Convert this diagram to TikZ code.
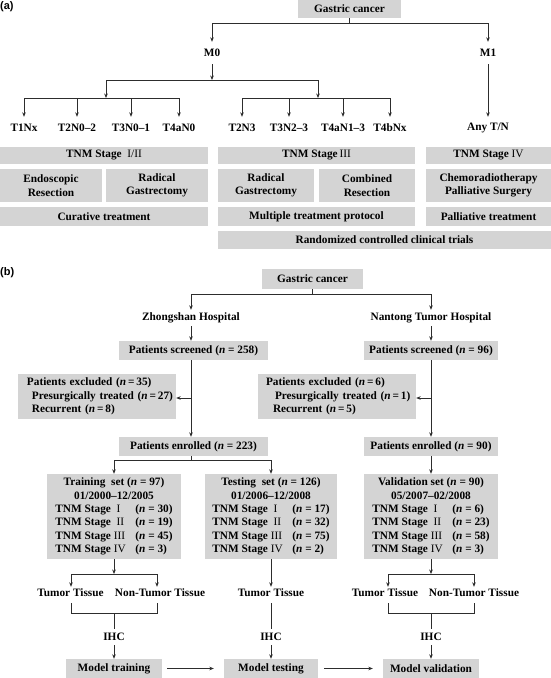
\documentclass[tikz,border=0pt]{standalone}
\usepackage{fontspec}
\setmainfont{Liberation Serif}
\newfontfamily\labfont{Liberation Sans}
\usetikzlibrary{arrows.meta,calc}
\definecolor{boxgray}{RGB}{212,212,212}
\definecolor{linec}{RGB}{45,45,45}
\newcommand{\nn}{\textit{n}}
\newcommand{\rn}[1]{{\mdseries #1}}
\newcommand{\stg}[2]{\makebox[80pt][l]{TNM Stage\ #1} & (\nn\ =\ #2)\\}
\begin{document}
\begin{tikzpicture}[x=1pt,y=-1pt,
  font=\bfseries\fontsize{11.3}{13.4}\selectfont,
  box/.style={fill=boxgray, inner sep=0pt, align=center},
  exbox/.style={fill=boxgray, align=left, text width=156pt, inner xsep=1pt, inner ysep=0pt, minimum height=45pt},
  lbl/.style={inner sep=0pt, align=center},
  ln/.style={draw=linec, line width=0.8pt},
  arr/.style={draw=linec, line width=0.8pt, -{Stealth[length=4.5pt,width=3.6pt]}},
  tag/.style={anchor=west, inner sep=0pt, font=\labfont\bfseries\fontsize{11}{13}\selectfont}]
\useasboundingbox (0,0) rectangle (551,678);

% ---------------- (a) ----------------
\node[tag] (la) at (0,7) {(a)};
\node[box, minimum width=103pt, minimum height=18pt] (ga) at (349.5,9) {Gastric cancer};
\node[lbl, minimum height=22pt] (m0) at (212,53) {M0};
\node[lbl, minimum height=22pt] (m1) at (488,53) {M1};
\coordinate (ta) at (349.5,23);
\draw[ln] (ga.south) -- (ta);
\draw[arr] (ta) -| (m0.north);
\draw[arr] (ta) -| (m1.north);

\coordinate (j0) at (212,80);
\coordinate (jL) at (106,80);
\coordinate (jR) at (318,80);
\coordinate (kL) at (106,98);
\coordinate (kR) at (318,98);
\draw[arr] (m0.south) -- (j0);
\draw[ln] (jL) -- (jR);
\draw[arr] (jL) -- (kL);
\draw[arr] (jR) -- (kR);

\node[lbl, minimum height=22pt] (t1) at (24,128) {T1Nx};
\node[lbl, minimum height=22pt] (t2) at (77,128) {T2N0--2};
\node[lbl, minimum height=22pt] (t3) at (131,128) {T3N0--1};
\node[lbl, minimum height=22pt] (t4) at (179,128) {T4aN0};
\node[lbl, minimum height=22pt] (t5) at (242,128) {T2N3};
\node[lbl, minimum height=22pt] (t6) at (289,128) {T3N2--3};
\node[lbl, minimum height=22pt] (t7) at (343,128) {T4aN1--3};
\node[lbl, minimum height=22pt] (t8) at (390,128) {T4bNx};
\node[lbl, minimum height=22pt] (any) at (488,128) {Any T/N};

\draw[ln] (t1.north |- kL) -- (t4.north |- kL);
\draw[ln] (t5.north |- kR) -- (t8.north |- kR);
\foreach \t in {t1,t2,t3,t4} \draw[arr] (\t.north |- kL) -- (\t.north);
\foreach \t in {t5,t6,t7,t8} \draw[arr] (\t.north |- kR) -- (\t.north);
\draw[arr] (m1.south) -- (any.north);

\node[box, minimum width=208pt, minimum height=17pt] (s12) at (104,155.5) {TNM Stage\ \ \rn{I/II}};
\node[box, minimum width=197pt, minimum height=17pt] (s3) at (316.5,155.5) {TNM Stage\,\rn{III}};
\node[box, minimum width=125pt, minimum height=17pt] (s4) at (488.5,155.5) {TNM Stage\ \rn{IV}};

\node[box, minimum width=102pt, minimum height=33pt] (endo) at (51,185.5) {Endoscopic\\Resection};
\node[box, minimum width=102pt, minimum height=33pt] (rg1) at (157,185.5) {Radical\\Gastrectomy};
\node[box, minimum width=96pt, minimum height=33pt] (rg2) at (266,185.5) {Radical\\Gastrectomy};
\node[box, minimum width=96pt, minimum height=33pt] (comb) at (367,185.5) {Combined\\Resection};
\node[box, minimum width=125pt, minimum height=33pt] (chemo) at (488.5,185.5) {Chemoradiotherapy\\Palliative Surgery};

\node[box, minimum width=208pt, minimum height=19pt] (cur) at (104,216.5) {Curative treatment};
\node[box, minimum width=197pt, minimum height=19pt] (mult) at (316.5,216.5) {Multiple treatment protocol};
\node[box, minimum width=125pt, minimum height=19pt] (pall) at (488.5,216.5) {Palliative treatment};

\node[box, minimum width=333pt, minimum height=18pt] (rct) at (384.5,240) {Randomized controlled clinical trials};

% ---------------- (b) ----------------
\node[tag] (lb) at (0,273) {(b)};
\node[box, minimum width=101pt, minimum height=20pt] (gb) at (312.5,279) {Gastric cancer};
\coordinate (tb) at (312.5,294);
\node[lbl, minimum height=16pt] (zh) at (191,318) {Zhongshan Hospital};
\node[lbl, minimum height=16pt] (nt) at (431,318) {Nantong Tumor Hospital};
\draw[ln] (gb.south) -- (tb);
\draw[arr] (tb) -| (zh.north);
\draw[arr] (tb) -| (nt.north);

\node[box, minimum width=149pt, minimum height=19pt] (scrL) at (193.5,350.5) {Patients screened (\nn\ =\ 258)};
\node[box, minimum width=134pt, minimum height=19pt] (scrR) at (431,350.5) {Patients screened (\nn\ =\ 96)};
\draw[arr] (zh.south) -- (zh.south |- scrL.north);
\draw[arr] (nt.south) -- (nt.south |- scrR.north);

\node[exbox] (exL) at (97,396.5)
  {\hspace*{8pt}Patients excluded (\nn\,=\,35)\\\hspace*{13pt}Presurgically treated (\nn\,=\,27)\\\hspace*{13pt}Recurrent (\nn\,=\,8)};
\node[exbox] (exR) at (337,396.5)
  {\hspace*{7pt}Patients excluded (\nn\,=\,6)\\\hspace*{16pt}Presurgically treated (\nn\,=\,1)\\\hspace*{14pt}Recurrent (\nn\,=\,5)};

\node[box, minimum width=149pt, minimum height=19pt] (enL) at (193.5,446.5) {Patients enrolled (\nn\ =\ 223)};
\node[box, minimum width=134pt, minimum height=19pt] (enR) at (431,446.5) {Patients enrolled (\nn\ =\ 90)};

\draw[arr] (zh |- scrL.south) -- (zh |- enL.north);
\draw[arr] (nt |- scrR.south) -- (nt |- enR.north);
\coordinate (xl) at (191,398);
\coordinate (xr) at (431,398);
\draw[arr] (xl) -- (xl -| exL.east);
\draw[arr] (xr) -- (xr -| exR.east);

\node[box, minimum width=134pt, minimum height=85pt] (trn) at (114,516.5) {%
\begin{tabular}{@{}l@{}l@{}}
\multicolumn{2}{@{}c@{}}{Training\ \ set (\nn\ =\ 97)}\\
\multicolumn{2}{@{}c@{}}{01/2000--12/2005}\\
\stg{\ \rn{I}}{30}
\stg{\ \rn{II}}{19}
\stg{\rn{III}}{45}
\stg{\rn{IV}}{3}
\end{tabular}};
\node[box, minimum width=132pt, minimum height=85pt] (tst) at (271,516.5) {%
\begin{tabular}{@{}l@{}l@{}}
\multicolumn{2}{@{}c@{}}{Testing\ \ set (\nn\ =\ 126)}\\
\multicolumn{2}{@{}c@{}}{01/2006--12/2008}\\
\stg{\ \rn{I}}{17}
\stg{\ \rn{II}}{32}
\stg{\rn{III}}{75}
\stg{\rn{IV}}{2}
\end{tabular}};
\node[box, minimum width=134pt, minimum height=85pt] (val) at (431,516.5) {%
\begin{tabular}{@{}l@{}l@{}}
\multicolumn{2}{@{}c@{}}{Validation set (\nn\ =\ 90)}\\
\multicolumn{2}{@{}c@{}}{05/2007--02/2008}\\
\stg{\ \rn{I}}{6}
\stg{\ \rn{II}}{23}
\stg{\rn{III}}{58}
\stg{\rn{IV}}{3}
\end{tabular}};

\coordinate (b0) at (191,460);
\coordinate (b1) at (114,460);
\coordinate (b2) at (271,460);
\draw[ln] (zh |- enL.south) -- (b0);
\draw[ln] (b1) -- (b2);
\draw[arr] (b1) -- (b1 |- trn.north);
\draw[arr] (b2) -- (b2 |- tst.north);
\draw[arr] (nt |- enR.south) -- (nt |- val.north);

% tissues
\node[lbl, minimum height=12pt] (tt1) at (70.5,593) {Tumor Tissue};
\node[lbl, minimum height=12pt] (nt1) at (160,593) {Non-Tumor Tissue};
\node[lbl, minimum height=12pt] (tt2) at (271,593) {Tumor Tissue};
\node[lbl, minimum height=12pt] (tt3) at (385,593) {Tumor Tissue};
\node[lbl, minimum height=12pt] (nt3) at (474,593) {Non-Tumor Tissue};

\coordinate (u1) at (114,574);
\coordinate (u1a) at (71,574);
\coordinate (u1b) at (157,574);
\draw[arr] (trn.south) -- (u1);
\draw[ln] (u1a) -- (u1b);
\draw[arr] (u1a) -- (u1a |- tt1.north);
\draw[arr] (u1b) -- (u1b |- nt1.north);

\draw[arr] (tst.south) -- (tt2.north);

\coordinate (u3) at (431,574);
\coordinate (u3a) at (388,574);
\coordinate (u3b) at (474,574);
\draw[arr] (val.south) -- (u3);
\draw[ln] (u3a) -- (u3b);
\draw[arr] (u3a) -- (u3a |- tt3.north);
\draw[arr] (u3b) -- (u3b |- nt3.north);

% IHC
\node[lbl, minimum height=16pt] (ihc1) at (114,637) {IHC};
\node[lbl, minimum height=16pt] (ihc2) at (271,637) {IHC};
\node[lbl, minimum height=16pt] (ihc3) at (431,637) {IHC};

\coordinate (v1a) at (71,603);
\coordinate (v1b) at (157,603);
\coordinate (w1) at (114,613);
\draw[ln] (v1a) |- (w1);
\draw[ln] (v1b) |- (w1);
\draw[ln] (w1) -- (ihc1.north);

\coordinate (v2) at (271,603);
\draw[ln] (v2) -- (ihc2.north);

\coordinate (v3a) at (388,603);
\coordinate (v3b) at (474,603);
\coordinate (w3) at (431,613);
\draw[ln] (v3a) |- (w3);
\draw[ln] (v3b) |- (w3);
\draw[ln] (w3) -- (ihc3.north);

% models
\node[box, minimum width=96pt, minimum height=19pt] (mtr) at (114,668.5) {Model training};
\node[box, minimum width=94pt, minimum height=19pt] (mts) at (271,668.5) {Model testing};
\node[box, minimum width=96pt, minimum height=19pt] (mval) at (431,668.5) {Model validation};
\draw[arr] (ihc1.south) -- (mtr.north);
\draw[arr] (ihc2.south) -- (mts.north);
\draw[arr] (ihc3.south) -- (mval.north);
\draw[arr, shorten <=5pt, shorten >=10pt] (mtr.east) -- (mts.west);
\draw[arr, shorten <=6pt, shorten >=10pt] (mts.east) -- (mval.west);
\end{tikzpicture}
\end{document}
